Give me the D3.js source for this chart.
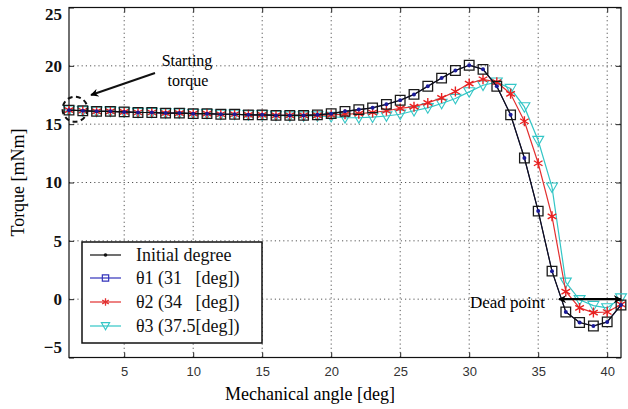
<!DOCTYPE html>
<html>
<head>
<meta charset="utf-8">
<script src="https://cdn.jsdelivr.net/npm/d3@7"></script>
<style>
  body { margin: 0; background: #fff; }
  svg { display: block; }
</style>
</head>
<body>
<script>
// data
var angles = [1, 2, 3, 4, 5, 6, 7, 8, 9, 10, 11, 12, 13, 14, 15, 16, 17, 18, 19, 20,
  21, 22, 23, 24, 25, 26, 27, 28, 29, 30, 31, 32, 33, 34, 35, 36, 37, 38, 39, 40, 41];

var initialTorque = [16.2, 16.15, 16.1, 16.1, 16.05, 16.0, 16.0, 15.95, 15.95, 15.9,
  15.9, 15.85, 15.85, 15.8, 15.8, 15.75, 15.75, 15.75, 15.8, 15.9,
  16.1, 16.25, 16.4, 16.7, 17.05, 17.55, 18.25, 18.95, 19.6, 20.05,
  19.7, 18.25, 15.8, 12.1, 7.55, 2.4, -1.1, -2.0, -2.3, -1.95, -0.5];

var theta1Torque = [16.2, 16.15, 16.1, 16.1, 16.05, 16.0, 16.0, 15.95, 15.95, 15.9,
  15.9, 15.85, 15.85, 15.8, 15.8, 15.75, 15.75, 15.75, 15.8, 15.9,
  16.1, 16.25, 16.4, 16.7, 17.05, 17.55, 18.25, 18.95, 19.6, 20.05,
  19.7, 18.25, 15.8, 12.1, 7.55, 2.4, -1.1, -2.0, -2.3, -1.95, -0.5];

var theta2Torque = [16.2, 16.15, 16.1, 16.1, 16.05, 16.0, 16.0, 15.95, 15.95, 15.9,
  15.9, 15.85, 15.85, 15.8, 15.8, 15.75, 15.75, 15.75, 15.75, 15.8,
  15.85, 15.9, 16.0, 16.15, 16.35, 16.5, 16.82, 17.25, 17.8, 18.48,
  18.85, 18.6, 17.6, 15.25, 11.65, 7.1, 0.65, -0.75, -1.15, -1.1, -0.45];

var theta3Torque = [16.2, 16.15, 16.1, 16.1, 16.05, 16.0, 16.0, 15.95, 15.95, 15.9,
  15.9, 15.85, 15.85, 15.8, 15.8, 15.75, 15.7, 15.7, 15.7, 15.65,
  15.55, 15.55, 15.6, 15.7, 15.85, 16.15, 16.4, 16.77, 17.2, 17.77,
  18.34, 18.6, 18.05, 16.48, 13.6, 9.6, 1.45, -0.05, -0.55, -0.75, 0.1];

var xTicks = [5, 10, 15, 20, 25, 30, 35, 40];
var yTicks = [-5, 0, 5, 10, 15, 20, 25];
var seriesNames = ["Initial degree", "\u03b81 (31   [deg])", "\u03b82 (34   [deg])", "\u03b83 (37.5[deg])"];

// layout
var width = 628;
var height = 409;
var plotLeft = 69, plotRight = 621, plotTop = 7.5, plotBottom = 357.5;
var serif = "'Liberation Serif', 'Times New Roman', serif";
var sans = "'Liberation Sans', Arial, sans-serif";

var svg = d3.select("body").append("svg")
    .attr("width", width)
    .attr("height", height);

var x = d3.scaleLinear().domain([1, 41]).range([plotLeft, plotRight]);
var y = d3.scaleLinear().domain([-5, 25]).range([plotBottom, plotTop]);

// arrow heads
var defs = svg.append("defs");
defs.append("marker")
    .attr("id", "head")
    .attr("viewBox", "0 0 10 10")
    .attr("refX", 9).attr("refY", 5)
    .attr("markerWidth", 8).attr("markerHeight", 8)
    .attr("markerUnits", "userSpaceOnUse")
    .attr("orient", "auto-start-reverse")
  .append("path")
    .attr("d", "M0,0 L10,5 L0,10 L3,5 Z")
    .attr("fill", "#000");

// dotted grid
var grid = svg.append("g").attr("class", "grid");
grid.selectAll(".gx").data(xTicks).join("line")
    .attr("class", "gx")
    .attr("x1", function(d) { return x(d); })
    .attr("x2", function(d) { return x(d); })
    .attr("y1", plotTop).attr("y2", plotBottom);
grid.selectAll(".gy").data(yTicks).join("line")
    .attr("class", "gy")
    .attr("x1", plotLeft).attr("x2", plotRight)
    .attr("y1", function(d) { return y(d); })
    .attr("y2", function(d) { return y(d); });
grid.selectAll("line")
    .attr("stroke", "#555")
    .attr("stroke-width", 1)
    .attr("stroke-dasharray", "1.2,3");

// axes, ticks pointing inward on all four sides
var xAxis = svg.append("g")
    .attr("transform", "translate(0," + plotBottom + ")")
    .call(d3.axisBottom(x).tickValues(xTicks).tickSize(-5).tickPadding(9));
svg.append("g")
    .attr("transform", "translate(0," + plotTop + ")")
    .call(d3.axisTop(x).tickValues(xTicks).tickSize(-5).tickFormat(""));
var yAxis = svg.append("g")
    .attr("transform", "translate(" + plotLeft + ",0)")
    .call(d3.axisLeft(y).tickValues(yTicks).tickSize(-5).tickPadding(7));
svg.append("g")
    .attr("transform", "translate(" + plotRight + ",0)")
    .call(d3.axisRight(y).tickValues(yTicks).tickSize(-5).tickFormat(""));

svg.selectAll(".domain").remove();
svg.selectAll(".tick line").attr("stroke", "#222");

xAxis.selectAll("text")
    .style("font-family", sans)
    .style("font-size", "13px")
    .attr("fill", "#333");

yAxis.selectAll("text")
    .style("font-family", serif)
    .style("font-size", "17px")
    .style("font-weight", "bold")
    .attr("fill", "#111")
    .attr("dy", function(d) {
      // the end labels sit inside the frame in the picture
      if (d === 25) return "0.7em";
      if (d === -5) return "-0.3em";
      return "0.32em";
    });

// frame
svg.append("rect")
    .attr("x", plotLeft).attr("y", plotTop)
    .attr("width", plotRight - plotLeft).attr("height", plotBottom - plotTop)
    .attr("fill", "none")
    .attr("stroke", "#111")
    .attr("stroke-width", 1.2);

// series
var line = d3.line()
    .x(function(d, i) { return x(angles[i]); })
    .y(function(d) { return y(d); });

var plot = svg.append("g");

function drawLine(values, color, w) {
  plot.append("path")
      .datum(values)
      .attr("d", line)
      .attr("fill", "none")
      .attr("stroke", color)
      .attr("stroke-width", w);
}

var tri = d3.symbol().type(d3.symbolTriangle).size(52);
var sq = d3.symbol().type(d3.symbolSquare).size(92);
var star = d3.symbol().type(d3.symbolAsterisk).size(70);

// theta3: cyan, down triangles
drawLine(theta3Torque, "#33c6c6", 1.2);
plot.append("g").selectAll("path")
    .data(theta3Torque)
    .join("path")
    .attr("d", tri)
    .attr("transform", function(d, i) { return "translate(" + x(angles[i]) + "," + (y(d) - 1) + ") rotate(180)"; })
    .attr("fill", "none")
    .attr("stroke", "#33c6c6")
    .attr("stroke-width", 1.1);

// theta2: red, stars
drawLine(theta2Torque, "#e23030", 1.2);
plot.append("g").selectAll("path")
    .data(theta2Torque)
    .join("path")
    .attr("d", star)
    .attr("transform", function(d, i) { return "translate(" + x(angles[i]) + "," + y(d) + ")"; })
    .attr("fill", "none")
    .attr("stroke", "#e82020")
    .attr("stroke-width", 1.4);

// theta1: squares
drawLine(theta1Torque, "#1c1c7a", 1.2);
plot.append("g").selectAll("path")
    .data(theta1Torque)
    .join("path")
    .attr("d", sq)
    .attr("transform", function(d, i) { return "translate(" + x(angles[i]) + "," + y(d) + ")"; })
    .attr("fill", "none")
    .attr("stroke", "#1a1a1a")
    .attr("stroke-width", 1.3);

// initial: black line, dark blue dots
drawLine(initialTorque, "#111", 1.1);
plot.append("g").selectAll("circle")
    .data(initialTorque)
    .join("circle")
    .attr("cx", function(d, i) { return x(angles[i]); })
    .attr("cy", function(d) { return y(d); })
    .attr("r", 2)
    .attr("fill", "#1a1a99");

// starting torque annotation
svg.append("circle")
    .attr("cx", x(angles[0]) + 6)
    .attr("cy", y(initialTorque[0]) - 1)
    .attr("r", 12.5)
    .attr("fill", "none")
    .attr("stroke", "#111")
    .attr("stroke-width", 2)
    .attr("stroke-dasharray", "5,3.5");

svg.append("line")
    .attr("x1", 155).attr("y1", 73)
    .attr("x2", 91).attr("y2", 95)
    .attr("stroke", "#111")
    .attr("stroke-width", 2)
    .attr("marker-end", "url(#head)");

svg.append("text")
    .attr("x", 187).attr("y", 66)
    .attr("text-anchor", "middle")
    .style("font-family", serif)
    .style("font-size", "16px")
    .text("Starting");
svg.append("text")
    .attr("x", 188).attr("y", 86)
    .attr("text-anchor", "middle")
    .style("font-family", serif)
    .style("font-size", "16px")
    .text("torque");

// dead point annotation
svg.append("line")
    .attr("x1", x(36.5)).attr("y1", y(0))
    .attr("x2", x(41)).attr("y2", y(0))
    .attr("stroke", "#000")
    .attr("stroke-width", 2.2)
    .attr("marker-start", "url(#head)")
    .attr("marker-end", "url(#head)");

svg.append("text")
    .attr("x", 545).attr("y", 308)
    .attr("text-anchor", "end")
    .style("font-family", serif)
    .style("font-size", "17px")
    .text("Dead point");

// legend
var lg = svg.append("g");
lg.append("rect")
    .attr("x", 82).attr("y", 242)
    .attr("width", 180).attr("height", 101)
    .attr("fill", "#fff")
    .attr("stroke", "#111")
    .attr("stroke-width", 1.5);

var rowY = [255, 278, 302, 326];
var legColors = ["#111", "#3333bb", "#e23030", "#33c6c6"];

lg.selectAll(".ll").data(seriesNames).join("line")
    .attr("class", "ll")
    .attr("x1", 90).attr("x2", 121)
    .attr("y1", function(d, i) { return rowY[i]; })
    .attr("y2", function(d, i) { return rowY[i]; })
    .attr("stroke", function(d, i) { return legColors[i]; })
    .attr("stroke-width", 1.2);

lg.append("circle").attr("cx", 105.5).attr("cy", rowY[0]).attr("r", 1.8).attr("fill", "#111");
lg.append("path").attr("d", d3.symbol().type(d3.symbolSquare).size(40))
    .attr("transform", "translate(105.5," + rowY[1] + ")")
    .attr("fill", "none").attr("stroke", "#3333bb").attr("stroke-width", 1.2);
lg.append("path").attr("d", d3.symbol().type(d3.symbolAsterisk).size(40))
    .attr("transform", "translate(105.5," + rowY[2] + ")")
    .attr("fill", "none").attr("stroke", "#e23030").attr("stroke-width", 1.3);
lg.append("path").attr("d", d3.symbol().type(d3.symbolTriangle).size(30))
    .attr("transform", "translate(105.5," + (rowY[3] - 1) + ") rotate(180)")
    .attr("fill", "none").attr("stroke", "#33c6c6").attr("stroke-width", 1.1);

lg.selectAll(".lt").data(seriesNames).join("text")
    .attr("class", "lt")
    .attr("x", 136)
    .attr("y", function(d, i) { return rowY[i]; })
    .attr("dy", "0.33em")
    .attr("xml:space", "preserve")
    .style("white-space", "pre")
    .style("font-family", serif)
    .style("font-size", "18px")
    .attr("fill", "#111")
    .text(function(d) { return d; });

// axis titles
svg.append("text")
    .attr("x", 310).attr("y", 400)
    .attr("text-anchor", "middle")
    .style("font-family", serif)
    .style("font-size", "18px")
    .text("Mechanical angle [deg]");

svg.append("text")
    .attr("transform", "translate(24," + ((plotTop + plotBottom) / 2) + ") rotate(-90)")
    .attr("text-anchor", "middle")
    .style("font-family", serif)
    .style("font-size", "18px")
    .text("Torque [mNm]");
</script>
</body>
</html>
